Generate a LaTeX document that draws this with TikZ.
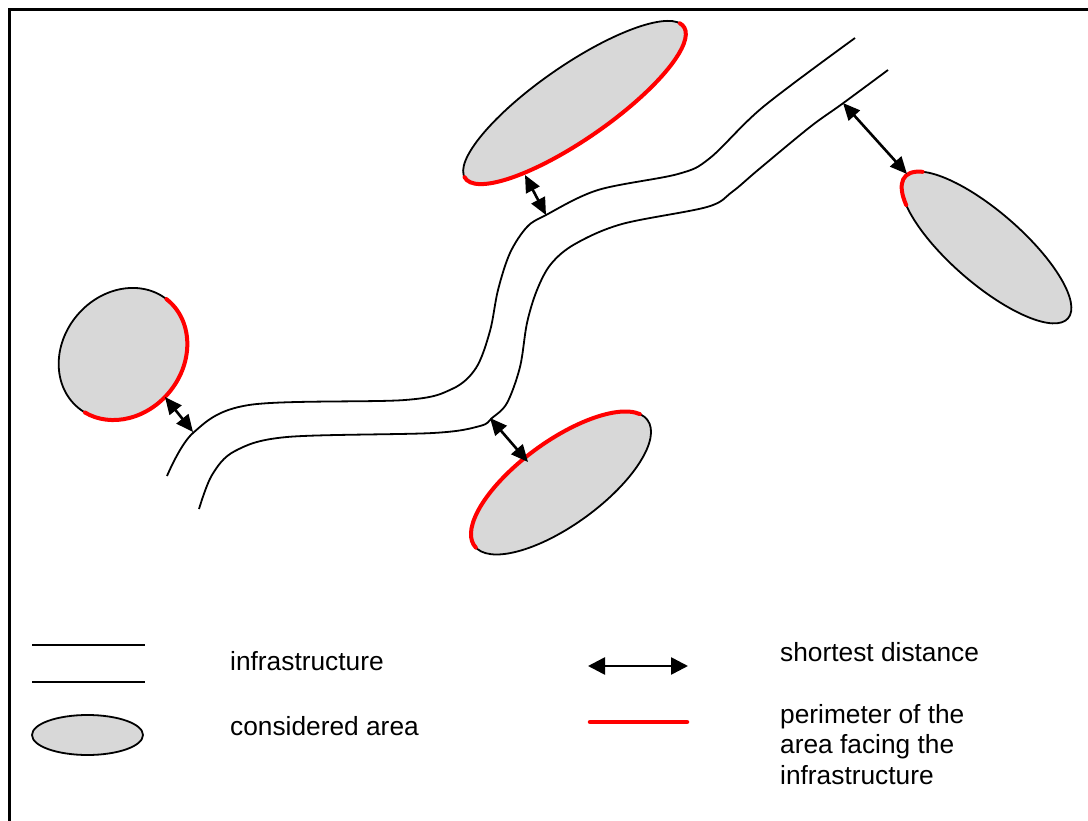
\documentclass[tikz,border=0pt]{standalone}
\usepackage{fontspec}
\setmainfont{Liberation Sans}
\usetikzlibrary{arrows.meta}
\definecolor{areafill}{RGB}{216,216,216}
\definecolor{perim}{RGB}{255,0,0}
\begin{document}
\begin{tikzpicture}[x=1pt,y=-1pt,
  road/.style={line width=1.8pt, draw=black},
  area/.style={fill=areafill, draw=black, line width=1.8pt},
  perimline/.style={draw=perim, line width=4pt, line cap=round},
  dist/.style={line width=2.6pt, {Triangle[length=17pt,width=15pt]}-{Triangle[length=17pt,width=15pt]}},
  legdist/.style={line width=2.6pt, {Triangle[length=17pt,width=17pt]}-{Triangle[length=17pt,width=17pt]}},
  lbl/.style={font=\fontsize{26.3}{31}\selectfont, anchor=base west, inner sep=0pt}]
\useasboundingbox (0,0) rectangle (1088,821);
\clip (0,0) rectangle (1088,821);
% frame
\draw[line width=2.6pt] (9.5,900) -- (9.5,9.5) -- (1200,9.5);

% infrastructure (road)
\draw[road] plot[smooth, tension=0.55] coordinates {(167,476) (193,433) (249,405) (405,400) (452,389) (476,368) (490,331) (498,290) (510,253) (527,227) (546,215) (598,190) (678,174) (710,158) (763,107) (855,38)};
\draw[road] plot[smooth, tension=0.55] coordinates {(199,509) (212,475) (235,451) (287,437) (433,433) (480,426) (492,418) (507,403) (520,367) (527,323) (537,290) (551,264) (575,244) (622,224) (707,207) (732,192) (758,170) (810,127) (842,104) (888,70)};

% top area
\begin{scope}[shift={(574.5,102.5)}, rotate=34.7, y=1pt]
  \draw[area] (0,0) ellipse [x radius=133, y radius=37];
  \draw[perimline] (178:133 and 37) arc [start angle=178, end angle=368, x radius=133, y radius=37];
\end{scope}
% left area
\begin{scope}[shift={(123,354)}, rotate=50, y=1pt]
  \draw[area] (0,0) ellipse [x radius=70, y radius=60];
  \draw[perimline] (2:70 and 60) arc [start angle=2, end angle=-172, x radius=70, y radius=60];
\end{scope}
% bottom area
\begin{scope}[shift={(561,483)}, rotate=36, y=1pt]
  \draw[area] (0,0) ellipse [x radius=107, y radius=42];
  \draw[perimline] (13:107 and 42) arc [start angle=13, end angle=183, x radius=107, y radius=42];
\end{scope}
% right area
\begin{scope}[shift={(986.5,247.5)}, rotate=-41, y=1pt]
  \draw[area] (0,0) ellipse [x radius=108, y radius=36];
  \draw[perimline] (155:108 and 36) arc [start angle=155, end angle=215, x radius=108, y radius=36];
\end{scope}

% shortest distances
\coordinate (lE) at (165,397);  \coordinate (lR) at (193,432);
\coordinate (tE) at (525,175);  \coordinate (tR) at (546,215);
\coordinate (bR) at (490,418);  \coordinate (bE) at (528,462);
\coordinate (rR) at (843,103);  \coordinate (rE) at (907,174);
\draw[dist] (lE) -- (lR);
\draw[dist] (tE) -- (tR);
\draw[dist] (bR) -- (bE);
\draw[dist] (rR) -- (rE);

% legend
\coordinate (i1a) at (32,645); \coordinate (i1b) at (145,645);
\coordinate (i2a) at (32,682); \coordinate (i2b) at (145,682);
\draw[road] (i1a) -- (i1b);
\draw[road] (i2a) -- (i2b);
\draw[area] (87.5,735) ellipse [x radius=55.5, y radius=20];
\coordinate (sa) at (588,666); \coordinate (sb) at (688,666);
\draw[legdist] (sa) -- (sb);
\coordinate (pa) at (590,722); \coordinate (pb) at (687,722);
\draw[perimline, line width=4.5pt] (pa) -- (pb);

\node[lbl] (tinf) at (230,670) {infrastructure};
\node[lbl] (tarea) at (230,735) {considered area};
\node[lbl] (tdist) at (780,661.5) {shortest distance};
\node[lbl] (tp1) at (780,723) {perimeter of the};
\node[lbl] (tp2) at (780,753.5) {area facing the};
\node[lbl] (tp3) at (780,784.5) {infrastructure};
\end{tikzpicture}
\end{document}
